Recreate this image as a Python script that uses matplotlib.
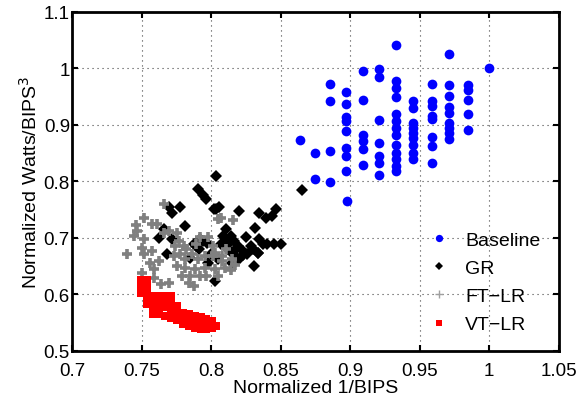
import matplotlib
matplotlib.use("Agg")
import matplotlib.pyplot as plt

plt.rcParams['font.family'] = ['Liberation Sans', 'DejaVu Sans']

# Baseline (blue circles)
base_x = [0.933, 0.971, 1.000, 0.909, 0.921, 0.921, 0.8855, 0.8855,
          0.897, 0.897, 0.897, 0.897, 0.897, 0.897, 0.897, 0.897, 0.898,
          0.909, 0.909, 0.909, 0.909, 0.909,
          0.921, 0.921, 0.921, 0.921, 0.921,
          0.933, 0.933, 0.933, 0.933, 0.933, 0.933, 0.933, 0.933, 0.933, 0.933, 0.933, 0.933,
          0.9455, 0.9455, 0.9455, 0.9455, 0.9455, 0.9455, 0.9455, 0.9455, 0.9455,
          0.9585, 0.9585, 0.9585, 0.9585, 0.9585, 0.9585, 0.9585, 0.9585,
          0.971, 0.971, 0.971, 0.971, 0.971, 0.971, 0.971, 0.971,
          0.985, 0.985, 0.985, 0.985, 0.985,
          0.8637, 0.875, 0.8855, 0.875, 0.8855]
base_y = [1.042, 1.025, 1.000, 0.995, 0.999, 0.985, 0.973, 0.943,
          0.958, 0.938, 0.914, 0.907, 0.889, 0.860, 0.845, 0.818, 0.766,
          0.944, 0.883, 0.871, 0.858, 0.829,
          0.909, 0.868, 0.845, 0.833, 0.811,
          0.978, 0.966, 0.950, 0.919, 0.907, 0.895, 0.883, 0.865, 0.851, 0.839, 0.827, 0.818,
          0.942, 0.930, 0.904, 0.895, 0.886, 0.877, 0.865, 0.851, 0.840,
          0.973, 0.942, 0.933, 0.916, 0.910, 0.879, 0.863, 0.833,
          0.970, 0.952, 0.932, 0.922, 0.904, 0.895, 0.886, 0.876,
          0.970, 0.962, 0.944, 0.919, 0.892,
          0.873, 0.851, 0.854, 0.805, 0.799]

# GR (black diamonds)
gr_x = [0.8036, 0.7905, 0.794, 0.7966, 0.8036, 0.820, 0.8346, 0.8393, 0.8464, 0.8318,
        0.8107, 0.8143, 0.8167, 0.819, 0.8226, 0.826, 0.8084, 0.8071, 0.8119, 0.8155,
        0.8346, 0.837, 0.8405, 0.8452, 0.850, 0.8298, 0.8334, 0.831, 0.7695, 0.7719,
        0.7779, 0.8024, 0.806, 0.766, 0.7624, 0.7719, 0.7814, 0.7683, 0.7921, 0.7969,
        0.865, 0.803, 0.798, 0.805, 0.815, 0.820, 0.791, 0.789, 0.794, 0.812,
        0.818, 0.823, 0.800, 0.785, 0.788, 0.810, 0.825, 0.829, 0.834, 0.844]
gr_y = [0.810, 0.786, 0.776, 0.769, 0.751, 0.748, 0.745, 0.736, 0.751, 0.717,
        0.7154, 0.7036, 0.6947, 0.6858, 0.677, 0.671, 0.7036, 0.689, 0.680, 0.671,
        0.6977, 0.689, 0.689, 0.689, 0.689, 0.680, 0.674, 0.650, 0.754, 0.745,
        0.754, 0.751, 0.754, 0.7154, 0.7007, 0.6977, 0.7213, 0.671, 0.6977, 0.6918,
        0.785, 0.624, 0.656, 0.662, 0.656, 0.662, 0.680, 0.686, 0.695, 0.690,
        0.680, 0.670, 0.672, 0.665, 0.690, 0.700, 0.701, 0.686, 0.674, 0.739]

# FT-LR (gray plus)
ft_x = [0.766, 0.7516, 0.7576, 0.7611, 0.7457, 0.7469, 0.7445, 0.7516, 0.7397, 0.7504,
        0.7516, 0.7576, 0.7564, 0.7624, 0.7588, 0.7504, 0.766, 0.7695, 0.7754, 0.7766,
        0.7802, 0.7731, 0.7779, 0.7814, 0.7862, 0.7909, 0.7957, 0.8016, 0.8076, 0.7754,
        0.7814, 0.7886, 0.7957, 0.8029, 0.810, 0.779, 0.785, 0.792, 0.8052, 0.807,
        0.816, 0.759, 0.764, 0.770, 0.784, 0.788, 0.796, 0.798, 0.801, 0.803,
        0.808, 0.811, 0.815, 0.817, 0.805, 0.814, 0.774, 0.789, 0.782, 0.792]
ft_y = [0.760, 0.736, 0.7243, 0.7243, 0.7225, 0.7124, 0.7035, 0.6977, 0.6711, 0.683,
        0.671, 0.677, 0.6564, 0.6592, 0.6445, 0.6386, 0.7096, 0.7124, 0.7096, 0.6947,
        0.6858, 0.668, 0.671, 0.6623, 0.671, 0.6623, 0.668, 0.668, 0.6592, 0.6504,
        0.6475, 0.6445, 0.6475, 0.6445, 0.6475, 0.6327, 0.6327, 0.6327, 0.7332, 0.736,
        0.732, 0.630, 0.618, 0.621, 0.621, 0.615, 0.633, 0.701, 0.686, 0.674,
        0.668, 0.680, 0.662, 0.653, 0.633, 0.644, 0.686, 0.690, 0.680, 0.701]

# VT-LR (red squares)
vt_x = [0.7495, 0.7495, 0.7495,
        0.7538, 0.7538, 0.7538, 0.7538, 0.7538,
        0.7581, 0.7581, 0.7581, 0.7581,
        0.7624, 0.7624, 0.7624, 0.7624,
        0.7666, 0.7666, 0.7666, 0.7666,
        0.7709, 0.7709, 0.7709, 0.7709,
        0.7752, 0.7752, 0.7752,
        0.7795, 0.7795, 0.7795,
        0.7838, 0.7838, 0.7838,
        0.7881, 0.7881, 0.7881,
        0.7924, 0.7924, 0.7924,
        0.7966, 0.7966, 0.7966,
        0.8009, 0.8009,
        0.8038]
vt_y = [0.6248, 0.6142, 0.6035,
        0.6248, 0.6142, 0.6035, 0.5929, 0.5823,
        0.5982, 0.5876, 0.5770, 0.5663,
        0.5982, 0.5876, 0.5770, 0.5663,
        0.5982, 0.5876, 0.5770, 0.5628,
        0.5965, 0.5840, 0.5716, 0.5592,
        0.5805, 0.5681, 0.5557,
        0.5681, 0.5574, 0.5486,
        0.5663, 0.5557, 0.5450,
        0.5628, 0.5521, 0.5415,
        0.5610, 0.5504, 0.5397,
        0.5574, 0.5486, 0.5397,
        0.5539, 0.5415,
        0.5450]

xticks = [0.7, 0.75, 0.8, 0.85, 0.9, 0.95, 1.0, 1.05]
xticklabels = ['0.7', '0.75', '0.8', '0.85', '0.9', '0.95', '1', '1.05']
yticks = [0.5, 0.6, 0.7, 0.8, 0.9, 1.0, 1.1]
yticklabels = ['0.5', '0.6', '0.7', '0.8', '0.9', '1', '1.1']

fig = plt.figure(figsize=(5.87, 4.02), dpi=100)
ax = fig.add_axes([0.1227, 0.1244, 0.8293, 0.8433])

ax.plot(base_x, base_y, 'o', color='#0000ff', markersize=7, markeredgewidth=0,
        linestyle='none', label='Baseline')
ax.plot(gr_x, gr_y, 'D', color='black', markersize=6, markeredgewidth=0,
        linestyle='none', label='GR')
ax.plot(ft_x, ft_y, '+', color='#808080', markersize=7, markeredgewidth=2.6,
        linestyle='none', label='FT\u2212LR')
ax.plot(vt_x, vt_y, 's', color='#ff0000', markersize=6, markeredgewidth=0,
        linestyle='none', label='VT\u2212LR')

ax.set_xlim(0.7, 1.05)
ax.set_ylim(0.5, 1.1)
ax.set_xticks(xticks)
ax.set_xticklabels(xticklabels)
ax.set_yticks(yticks)
ax.set_yticklabels(yticklabels)
ax.tick_params(direction='in', top=True, right=True, labelsize=13.5, length=4,
               width=1.5)
ax.tick_params(axis='x', pad=8)
ax.tick_params(axis='y', pad=1.5)
for s in ax.spines.values():
    s.set_linewidth(2)
ax.grid(True, linestyle=(0, (1, 3.5)), color='#444444', linewidth=0.8)
ax.set_axisbelow(True)

ax.set_xlabel('Normalized 1/BIPS', fontsize=14, labelpad=0)
ax.set_ylabel('Normalized Watts/BIPS$^3$', fontsize=14, labelpad=2)

handles, labels = ax.get_legend_handles_labels()
leg = ax.legend(handles, labels, loc='lower right', frameon=False, fontsize=14,
                markerscale=0.75, handletextpad=0.6, labelspacing=0.55,
                handlelength=1.5, bbox_to_anchor=(0.998, 0.0))
leg.legend_handles[2].set_markeredgewidth(1)
leg.legend_handles[2].set_color('#a0a0a0')

fig.savefig('out.png', dpi=100)
